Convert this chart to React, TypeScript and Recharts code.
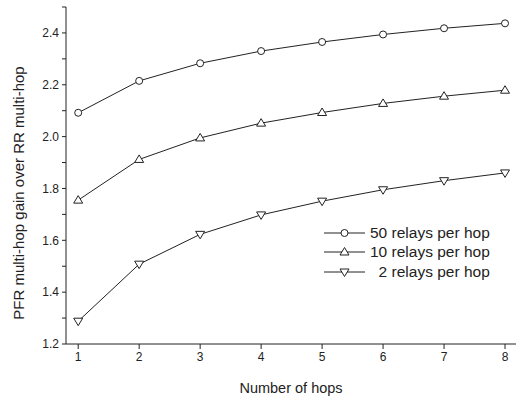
import { LineChart, Line, XAxis, YAxis } from 'recharts';

const hops = [1, 2, 3, 4, 5, 6, 7, 8];
const relays50 = [2.092, 2.215, 2.283, 2.33, 2.365, 2.394, 2.418, 2.437];
const relays10 = [1.755, 1.912, 1.995, 2.052, 2.093, 2.128, 2.156, 2.179];
const relays2 = [1.288, 1.508, 1.623, 1.698, 1.751, 1.795, 1.83, 1.86];

const yTicks = [1.2, 1.3, 1.4, 1.5, 1.6, 1.7, 1.8, 1.9, 2.0, 2.1, 2.2, 2.3, 2.4, 2.5];
const xTicks = [1, 2, 3, 4, 5, 6, 7, 8];

const data = hops.map((h, i) => ({
  hop: h,
  r50: relays50[i],
  r10: relays10[i],
  r2: relays2[i],
}));

const FONT = '"Liberation Sans", Arial, sans-serif';
const INK = '#222';

const Circle = (props: any) => (
  <circle key={props.key} cx={props.cx} cy={props.cy} r={3.5} fill="#fff" stroke={INK} strokeWidth={1} />
);
const TriUp = (props: any) => {
  const { cx, cy } = props;
  return <polygon key={props.key} points={`${cx},${cy - 4.5} ${cx - 4.5},${cy + 3} ${cx + 4.5},${cy + 3}`} fill="#fff" stroke={INK} strokeWidth={1} />;
};
const TriDown = (props: any) => {
  const { cx, cy } = props;
  return <polygon key={props.key} points={`${cx},${cy + 4.5} ${cx - 4.5},${cy - 3} ${cx + 4.5},${cy - 3}`} fill="#fff" stroke={INK} strokeWidth={1} />;
};

const legendRows = [
  { label: '50 relays per hop', shape: 'circle' },
  { label: '10 relays per hop', shape: 'up' },
  { label: '\u00a0\u00a02 relays per hop', shape: 'down' },
];

// legend drawn outside the chart so it doesn't eat plot height
const LegendBox = () => (
  <div style={{ position: 'absolute', left: 324, top: 223, fontFamily: FONT, fontSize: 15.5, color: INK }}>
    {legendRows.map((r) => (
      <div key={r.label} style={{ display: 'flex', alignItems: 'center', height: 19.5 }}>
        <svg width={46} height={14}>
          <line x1={0} y1={7} x2={41} y2={7} stroke={INK} strokeWidth={1} />
          {r.shape === 'circle' && Circle({ cx: 20.5, cy: 7 })}
          {r.shape === 'up' && TriUp({ cx: 20.5, cy: 7 })}
          {r.shape === 'down' && TriDown({ cx: 20.5, cy: 7 })}
        </svg>
        <span style={{ whiteSpace: 'pre' }}>{r.label}</span>
      </div>
    ))}
  </div>
);

const yFmt = (v: number) => (Math.round(v * 10) % 2 === 0 && v < 2.45 ? v.toFixed(1) : '');

const YLabel = () => (
  <text x={18} y={193} transform="rotate(-90,18,193)" textAnchor="middle" dominantBaseline="central" fontSize={15} fontFamily={FONT} fill={INK}>
    PFR multi-hop gain over RR multi-hop
  </text>
);

export default function App() {
  return (
    <div style={{ position: 'absolute', left: 0, top: 0, background: '#fff' }}>
      <LineChart width={516} height={398} data={data} margin={{ top: 7, right: 0, bottom: 0, left: 26 }}>
        <XAxis
          dataKey="hop"
          type="number"
          domain={[0.8, 8.18]}
          ticks={xTicks}
          allowDataOverflow
          height={54}
          stroke={INK}
          tickSize={5}
          tick={{ fontSize: 12, fontFamily: FONT, fill: INK }}
          tickMargin={3}
          label={{ value: 'Number of hops', position: 'insideBottom', offset: 5, fontSize: 14.5, fontFamily: FONT, fill: INK }}
        />
        <YAxis
          type="number"
          domain={[1.2, 2.5]}
          ticks={yTicks}
          allowDataOverflow
          width={40}
          stroke={INK}
          tickSize={4}
          tickFormatter={yFmt}
          interval={0}
          tick={{ fontSize: 12, fontFamily: FONT, fill: INK }}
          tickMargin={3}
          label={<YLabel />}
        />
        <Line dataKey="r50" stroke={INK} strokeWidth={1} dot={Circle} isAnimationActive={false} />
        <Line dataKey="r10" stroke={INK} strokeWidth={1} dot={TriUp} isAnimationActive={false} />
        <Line dataKey="r2" stroke={INK} strokeWidth={1} dot={TriDown} isAnimationActive={false} />
      </LineChart>
      <LegendBox />
    </div>
  );
}
